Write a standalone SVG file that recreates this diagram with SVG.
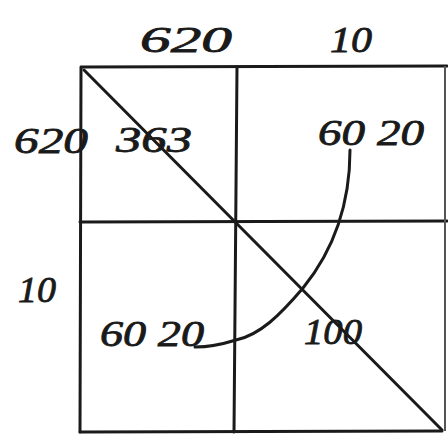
<svg xmlns="http://www.w3.org/2000/svg" width="448" height="434" viewBox="0 0 448 434">
<style>
.ln{stroke:#1a1a1a;stroke-width:3;fill:none;stroke-linecap:round}
.thin{stroke:#555;stroke-width:2;fill:none}
.t{font-family:"Liberation Serif",serif;font-style:italic;font-size:36px;fill:#1a1a1a;stroke:#1a1a1a;stroke-width:0.8}
</style>
<rect width="448" height="434" fill="#fff"/>
<g id="connectors">
<line class="ln" x1="82" y1="67" x2="447" y2="66"/>
<line class="ln" x1="81" y1="67" x2="80" y2="432"/>
<line class="ln" x1="237" y1="67" x2="234" y2="432"/>
<line class="ln" x1="80" y1="222" x2="447" y2="221"/>
<line class="ln" x1="80" y1="432" x2="442" y2="431"/>
<line class="thin" x1="445" y1="66" x2="445" y2="431"/>
<line class="ln" x1="84" y1="70" x2="442" y2="430"/>
<path class="ln" d="M350,150 C350,190 342,240 303,288 C280,315 260,335 236,340 C220,345 205,347 195,347"/>
</g>
<g id="labels">
<text class="t" x="140" y="52" textLength="92" lengthAdjust="spacingAndGlyphs">620</text>
<text class="t" x="330" y="52" textLength="42" lengthAdjust="spacingAndGlyphs">10</text>
<text class="t" x="14" y="153" textLength="74" lengthAdjust="spacingAndGlyphs">620</text>
<text class="t" x="116" y="152" textLength="76" lengthAdjust="spacingAndGlyphs">363</text>
<text class="t" x="318" y="145" textLength="106" lengthAdjust="spacingAndGlyphs">60 20</text>
<text class="t" x="18" y="302" textLength="38" lengthAdjust="spacingAndGlyphs">10</text>
<text class="t" x="100" y="346" textLength="104" lengthAdjust="spacingAndGlyphs">60 20</text>
<text class="t" x="304" y="344" textLength="58" lengthAdjust="spacingAndGlyphs">100</text>
</g>
</svg>
